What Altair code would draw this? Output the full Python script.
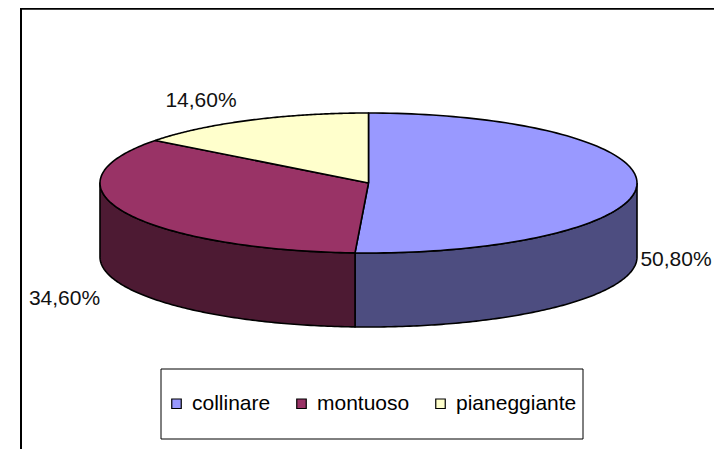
import numpy as np
import pandas as pd
import altair as alt

# ---- data ----
categories = ["collinare", "montuoso", "pianeggiante"]
values = [50.8, 34.6, 14.6]
labels = ["50,80%", "34,60%", "14,60%"]
top_colors = ["#9999FF", "#993366", "#FFFFCC"]
side_colors = ["#4D4D80", "#4D1A33", "#80805F"]

# ---- geometry of the tilted pie (plot-area pixel units) ----
W, H = 706, 441
cx, cy = 360.5, 175.0
rx, ry = 268.5, 70.0
depth = 74.0
npts = 120

def ex(t):
    return cx + rx * np.sin(t)

def ey(t):
    return cy - ry * np.cos(t)

total = sum(values)
starts = np.cumsum([0] + values[:-1]) / total * 2 * np.pi
ends = np.cumsum(values) / total * 2 * np.pi

rows = []
lab_rows = []
keys = []
key_colors = []
# side walls (front half only: 90deg .. 270deg)
for i, cat in enumerate(categories):
    a1 = max(starts[i], np.pi / 2)
    a2 = min(ends[i], 3 * np.pi / 2)
    if a2 > a1:
        key = cat + " (lato)"
        keys.append(key)
        key_colors.append(side_colors[i])
        ts = np.linspace(a1, a2, npts)
        pts = [(ex(t), ey(t)) for t in ts]
        pts += [(ex(t), ey(t) + depth) for t in ts[::-1]]
        pts.append(pts[0])
        for j, (x, y) in enumerate(pts):
            rows.append({"poly": "s" + str(i), "key": key, "ord": j, "x": x, "y": y})
# top faces
for i, cat in enumerate(categories):
    keys.append(cat)
    key_colors.append(top_colors[i])
    ts = np.linspace(starts[i], ends[i], npts)
    pts = [(cx, cy)] + [(ex(t), ey(t)) for t in ts] + [(cx, cy)]
    for j, (x, y) in enumerate(pts):
        rows.append({"poly": "t" + str(i), "key": cat, "ord": j, "x": x, "y": y})
    mid = (starts[i] + ends[i]) / 2
    s, c = np.sin(mid), np.cos(mid)
    front = c < 0
    g = (2 + 60 * abs(c)) if front else (6 + 26 * abs(c))
    lx = cx + (rx + g) * s
    ly = cy - (ry + (28 if front else 22)) * c + (depth + 1 if front else 0)
    lab_rows.append({"x": lx, "y": ly, "label": labels[i],
                     "align": "left" if s > 0 else "right"})

poly_df = pd.DataFrame(rows)
lab_df = pd.DataFrame(lab_rows)

xs = alt.Scale(domain=[0, W], nice=False, zero=False)
ys = alt.Scale(domain=[0, H], nice=False, zero=False, reverse=True)

FONT = "Liberation Sans"

frame_left = alt.Chart(pd.DataFrame({"a": [0]})).mark_rule(
    color="black", strokeWidth=2
).encode(x=alt.value(13), y=alt.value(0), y2=alt.value(H))
frame_top = alt.Chart(pd.DataFrame({"a": [0]})).mark_rule(
    color="black", strokeWidth=2.5
).encode(y=alt.value(0.5), x=alt.value(12), x2=alt.value(W))

legend_box = alt.Chart(pd.DataFrame({"a": [0]})).mark_rect(
    fill="white", stroke="black", strokeWidth=1
).encode(x=alt.value(153), x2=alt.value(575), y=alt.value(361), y2=alt.value(431))

pie = alt.Chart(poly_df).mark_line(stroke="black", strokeWidth=1.6, strokeJoin="round").encode(
    x=alt.X("x:Q", scale=xs, axis=None),
    y=alt.Y("y:Q", scale=ys, axis=None),
    detail="poly:N",
    order="ord:Q",
    fill=alt.Fill(
        "key:N",
        scale=alt.Scale(domain=keys, range=key_colors),
        legend=alt.Legend(
            values=categories,
            title=None,
            orient="none",
            direction="horizontal",
            legendX=158,
            legendY=385,
            padding=0,
            symbolType="square",
            symbolSize=90,
            symbolStrokeColor="black",
            symbolStrokeWidth=1.2,
            symbolOpacity=1,
            labelFont=FONT,
            labelFontSize=21,
            labelColor="black",
            labelOffset=5,
            columnPadding=20,
            labelLimit=300,
        ),
    ),
)

text_base = alt.Chart(lab_df).encode(
    x=alt.X("x:Q", scale=xs, axis=None),
    y=alt.Y("y:Q", scale=ys, axis=None),
    text="label:N",
)
texts_left = text_base.transform_filter(alt.datum.align == "left").mark_text(
    font=FONT, fontSize=21, color="#111111", align="left", baseline="middle"
)
texts_right = text_base.transform_filter(alt.datum.align == "right").mark_text(
    font=FONT, fontSize=21, color="#111111", align="right", baseline="middle"
)

chart = alt.layer(frame_left, frame_top, legend_box, pie, texts_left, texts_right).properties(
    width=W, height=H, padding=0, autosize="none"
).configure_view(stroke=None)

chart.save("out.html", embed_options={"renderer": "svg", "actions": False})
